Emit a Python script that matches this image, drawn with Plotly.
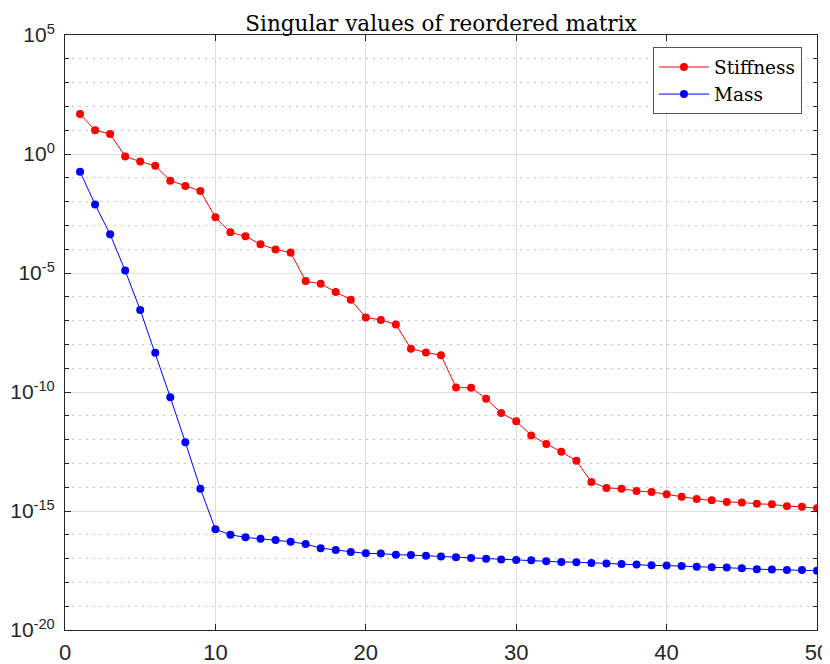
import plotly.graph_objects as go

index = list(range(1, 51))

stiffness = [
    4.8e1, 1.0e1, 6.9e0, 7.9e-1, 4.8e-1, 3.2e-1, 7.6e-2, 4.5e-2, 2.8e-2, 2.2e-3,
    5.1e-4, 3.5e-4, 1.6e-4, 9.8e-5, 7.2e-5, 4.6e-6, 3.5e-6, 1.6e-6, 7.6e-7, 1.35e-7,
    1.07e-7, 6.9e-8, 6.6e-9, 4.6e-9, 3.5e-9, 1.55e-10, 1.5e-10, 5.2e-11, 1.32e-11, 5.9e-12,
    1.5e-12, 6.6e-13, 3.1e-13, 1.29e-13, 1.66e-14, 9.3e-15, 8.7e-15, 6.9e-15, 6.3e-15, 5.0e-15,
    4.0e-15, 3.2e-15, 2.8e-15, 2.4e-15, 2.3e-15, 2.0e-15, 1.9e-15, 1.6e-15, 1.5e-15, 1.3e-15,
]

mass = [
    1.8e-1, 7.6e-3, 4.2e-4, 1.26e-5, 2.8e-7, 4.5e-9, 6.0e-11, 7.8e-13, 8.7e-15, 1.7e-16,
    1.0e-16, 7.8e-17, 6.8e-17, 6.0e-17, 5.1e-17, 4.1e-17, 2.75e-17, 2.3e-17, 1.9e-17, 1.66e-17,
    1.62e-17, 1.45e-17, 1.41e-17, 1.32e-17, 1.23e-17, 1.15e-17, 1.07e-17, 9.8e-18, 9.1e-18, 8.7e-18,
    8.5e-18, 7.8e-18, 7.2e-18, 7.1e-18, 6.6e-18, 6.2e-18, 6.0e-18, 5.6e-18, 5.2e-18, 5.1e-18,
    4.9e-18, 4.5e-18, 4.3e-18, 4.2e-18, 3.9e-18, 3.6e-18, 3.5e-18, 3.3e-18, 3.3e-18, 3.1e-18,
]

x_ticks = [0, 10, 20, 30, 40, 50]
y_exponents = [-20, -15, -10, -5, 0, 5]
y_tickvals = [10.0 ** e for e in y_exponents]
y_ticktext = [f"10<sup>{e}</sup>" for e in y_exponents]
y_minor = [10.0 ** e for e in range(-20, 6) if e % 5 != 0]

title_text = "Singular values of reordered matrix"
names = ["Stiffness", "Mass"]
colors = ["#ff0000", "#0000ff"]

fig = go.Figure()
for name, vals, col in zip(names, [stiffness, mass], colors):
    fig.add_trace(go.Scatter(
        x=index, y=vals, name=name, mode="lines+markers",
        line=dict(color=col, width=1),
        marker=dict(color=col, size=8),
    ))

axis_col = "#262626"
x_tick_font = dict(family="Liberation Sans, Arial, sans-serif", size=22, color=axis_col)
y_tick_font = dict(family="Liberation Sans, Arial, sans-serif", size=21, color=axis_col)

# The page body has an 8px margin, so the figure is sized to fill the window from there.
fig.update_layout(
    width=822, height=656,
    margin=dict(l=57, r=13, t=27, b=34, autoexpand=False),
    plot_bgcolor="white", paper_bgcolor="white",
    title=dict(text=title_text, x=0.5, xref="paper", xanchor="center",
               y=1, yref="paper", yanchor="bottom", pad=dict(b=4),
               automargin=False,
               font=dict(family="DejaVu Serif, serif", size=21.5, color="#000000")),
    legend=dict(x=0.98, y=0.979, xanchor="right", yanchor="top",
                bgcolor="white", bordercolor="#555555", borderwidth=1,
                font=dict(family="DejaVu Serif, serif", size=18.5, color="#000000"),
                itemwidth=50),
    showlegend=True,
)

fig.update_xaxes(
    range=[0, 50], tickmode="array", tickvals=x_ticks,
    ticks="inside", ticklen=6, tickcolor=axis_col, automargin=False,
    ticklabelstandoff=3,
    showline=True, linecolor=axis_col, linewidth=1, mirror="ticks",
    showgrid=True, gridcolor="#dedede", gridwidth=1, zeroline=False,
    tickfont=x_tick_font,
)

fig.update_yaxes(
    type="log", range=[-20, 5], tickmode="array",
    tickvals=y_tickvals, ticktext=y_ticktext,
    ticks="inside", ticklen=6, tickcolor=axis_col, automargin=False,
    ticklabelstandoff=5,
    showline=True, linecolor=axis_col, linewidth=1, mirror="ticks",
    showgrid=True, gridcolor="#dedede", gridwidth=1, zeroline=False,
    tickfont=y_tick_font,
    minor=dict(tickmode="array", tickvals=y_minor, ticks="inside", ticklen=4,
               tickcolor=axis_col, showgrid=True, gridcolor="#c4c4c4",
               griddash="2px,5px", gridwidth=1),
)

fig.write_html("out.html")
